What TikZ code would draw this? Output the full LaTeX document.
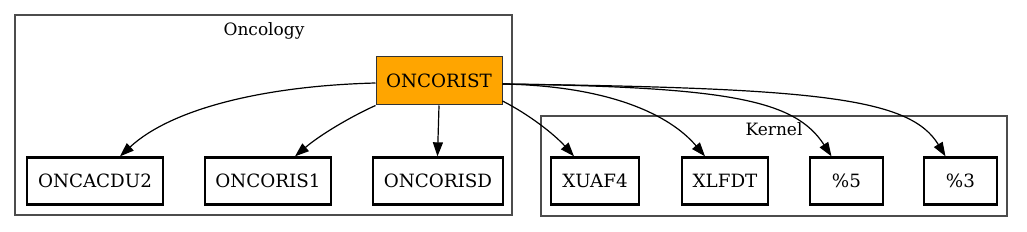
\documentclass[tikz,border=0pt]{standalone}
\usepackage{fontspec}
\setmainfont{DejaVu Serif}
\usetikzlibrary{arrows.meta}
\begin{document}
\begin{tikzpicture}[x=1pt,y=-1pt,
  every node/.style={font=\fontsize{18.3}{21}\selectfont},
  leaf/.style={draw=black,line width=2.3pt,fill=white,minimum height=47pt,inner sep=0pt},
  cluster/.style={draw=black!70,line width=1.3pt},
  cl/.style={font=\fontsize{17}{20}\selectfont},
  edge/.style={line width=1.2pt,-{Triangle[length=14pt,width=10pt]}}
]
\definecolor{gvorange}{HTML}{FFA500}
\useasboundingbox (0,0) rectangle (1027,232);
\draw[cluster] (15,15) rectangle (512,215);
\draw[cluster] (541,116) rectangle (1007,216);
\node[cl] (lo) at (264,31) {Oncology};
\node[cl] (lk) at (774,129) {Kernel};
\node[draw=black!80,line width=1pt,fill=gvorange,minimum height=48pt,minimum width=126pt,inner sep=0pt] (r) at (439,81) {ONCORIST};
\node[leaf,minimum width=136pt] (a) at (95,181) {ONCACDU2};
\node[leaf,minimum width=126pt] (b) at (268,181) {ONCORIS1};
\node[leaf,minimum width=130pt] (c) at (438,181) {ONCORISD};
\node[leaf,minimum width=88pt] (d) at (595,181) {XUAF4};
\node[leaf,minimum width=86pt] (e) at (725,181) {XLFDT};
\node[leaf,minimum width=73pt] (f) at (846.5,181) {\%5};
\node[leaf,minimum width=73pt] (g) at (960.5,181) {\%3};
\draw[edge] ([yshift=-2pt]r.west) .. controls (260,86) and (170,110) .. ([xshift=25pt]a.north);
\draw[edge] (r.south west) .. controls (350,117) and (320,135) .. ([xshift=27pt]b.north);
\draw[edge] (r.south) -- ([xshift=-0.5pt]c.north);
\draw[edge] ([yshift=-20pt]r.east) .. controls (530,115) and (555,135) .. ([xshift=-21pt]d.north);
\draw[edge] ([yshift=-3pt]r.east) .. controls (610,86) and (670,115) .. ([xshift=-20pt]e.north);
\draw[edge] ([yshift=-3pt]r.east) .. controls (730,87) and (795,100) .. ([xshift=-15pt]f.north);
\draw[edge] ([yshift=-3pt]r.east) .. controls (820,88) and (910,98) .. ([xshift=-15pt]g.north);
\end{tikzpicture}
\end{document}
